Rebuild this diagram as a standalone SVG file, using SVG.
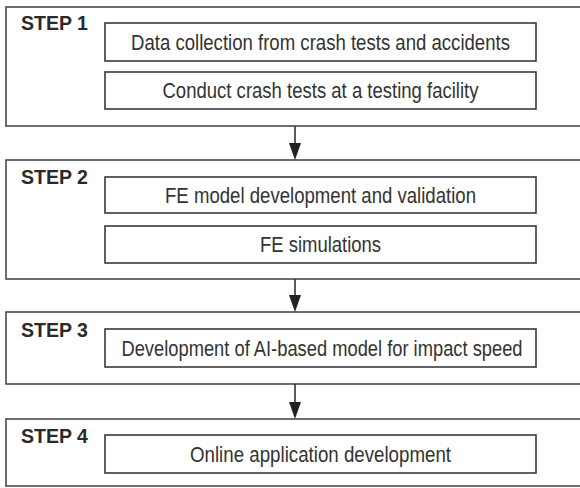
<svg xmlns="http://www.w3.org/2000/svg" width="580" height="488" viewBox="0 0 580 488">
<defs>
<style>
.outer{fill:#ffffff;stroke:#4a4a4a;stroke-width:1.6}
.inner{fill:#ffffff;stroke:#3a3a3a;stroke-width:1.6}
.step{font-family:"Liberation Sans",Arial,sans-serif;font-weight:bold;font-size:20.5px;fill:#2a2a2a}
.lbl{font-family:"Liberation Sans",Arial,sans-serif;font-size:21.5px;fill:#333333;text-anchor:middle}
.conn{stroke:#333333;stroke-width:1.6;fill:none}
.head{fill:#222222}
</style>
</defs>
<rect width="580" height="488" fill="#ffffff"/>
<g id="step1">
<rect class="outer" x="6" y="7" width="580" height="119"/>
<text class="step" x="21" y="29.5" textLength="67" lengthAdjust="spacingAndGlyphs">STEP 1</text>
</g>
<g id="s1a">
<rect class="inner" x="105" y="23" width="431" height="38"/>
<text class="lbl" x="320.5" y="49.5" textLength="379" lengthAdjust="spacingAndGlyphs">Data collection from crash tests and accidents</text>
</g>
<g id="s1b">
<rect class="inner" x="105" y="72" width="431" height="37"/>
<text class="lbl" x="320.5" y="98" textLength="316" lengthAdjust="spacingAndGlyphs">Conduct crash tests at a testing facility</text>
</g>
<g id="step2">
<rect class="outer" x="6" y="160" width="580" height="119"/>
<text class="step" x="21" y="184" textLength="67" lengthAdjust="spacingAndGlyphs">STEP 2</text>
</g>
<g id="s2a">
<rect class="inner" x="105" y="177" width="431" height="36"/>
<text class="lbl" x="320.5" y="202.5" textLength="311" lengthAdjust="spacingAndGlyphs">FE model development and validation</text>
</g>
<g id="s2b">
<rect class="inner" x="105" y="226" width="431" height="37"/>
<text class="lbl" x="320.5" y="252" textLength="121" lengthAdjust="spacingAndGlyphs">FE simulations</text>
</g>
<g id="step3">
<rect class="outer" x="6" y="312" width="580" height="72"/>
<text class="step" x="21" y="337" textLength="67" lengthAdjust="spacingAndGlyphs">STEP 3</text>
</g>
<g id="s3a">
<rect class="inner" x="105" y="329" width="431" height="38"/>
<text class="lbl" transform="translate(322,355.5) scale(0.852,1)" x="0" y="0">Development of AI-based model for impact speed</text>
</g>
<g id="step4">
<rect class="outer" x="6" y="419" width="580" height="67"/>
<text class="step" x="21" y="443" textLength="67" lengthAdjust="spacingAndGlyphs">STEP 4</text>
</g>
<g id="s4a">
<rect class="inner" x="105" y="435" width="431" height="38"/>
<text class="lbl" x="320.5" y="461.5" textLength="261" lengthAdjust="spacingAndGlyphs">Online application development</text>
</g>
<g id="connectors">
<line class="conn" x1="295" y1="126" x2="295" y2="146"/>
<polygon class="head" points="289,143 301,143 295,160"/>
<line class="conn" x1="295" y1="279" x2="295" y2="298"/>
<polygon class="head" points="289,295 301,295 295,312"/>
<line class="conn" x1="295" y1="384" x2="295" y2="405"/>
<polygon class="head" points="289,402 301,402 295,419"/>
</g>
</svg>
